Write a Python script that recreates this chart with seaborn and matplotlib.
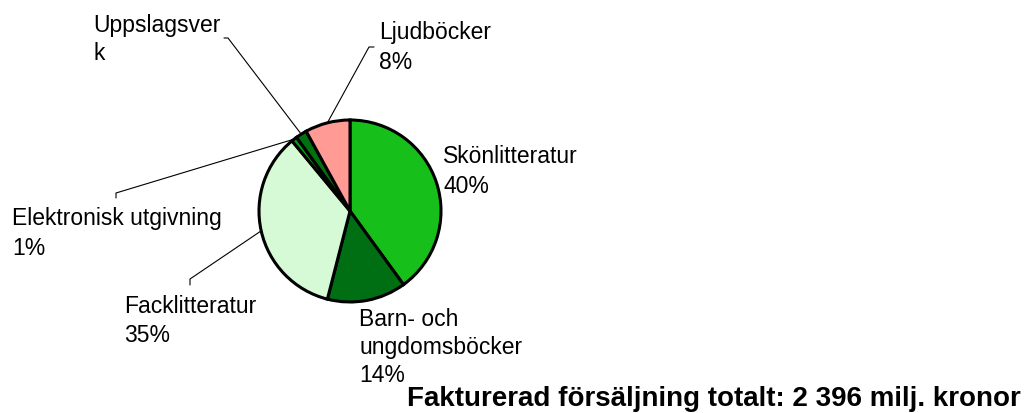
import numpy as np
import matplotlib.pyplot as plt
import seaborn as sns

sns.set_style("white")
plt.rcParams['font.family'] = ['Liberation Sans', 'DejaVu Sans']

# Data (clockwise from top)
categories = ['Skönlitteratur', 'Barn- och ungdomsböcker', 'Facklitteratur',
              'Elektronisk utgivning', 'Uppslagsverk', 'Ljudböcker']
shares = [40, 14, 35, 1, 2, 8]
colors = ['#17bf1a', '#006e13', '#d5fad5', '#00a010', '#007010', '#ff9a94']
label_lines = [
    ['Skönlitteratur', '40%'],
    ['Barn- och', 'ungdomsböcker', '14%'],
    ['Facklitteratur', '35%'],
    ['Elektronisk utgivning', '1%'],
    ['Uppslagsver', 'k'],
    ['Ljudböcker', '8%'],
]
title = 'Fakturerad försäljning totalt: 2 396 milj. kronor'

W, H = 1031, 414
fig = plt.figure(figsize=(W / 100, H / 100), dpi=100)
ax = fig.add_axes([0, 0, 1, 1])
ax.axis('off')

def Y(y):
    # pixel row (top-down) -> data y
    return H - y

cx, cy, r = 350, 212, 91
wedges, _ = ax.pie(shares, colors=colors, startangle=90, counterclock=False,
                   center=(cx, Y(cy)), radius=r,
                   wedgeprops=dict(edgecolor='black', linewidth=2.2))
ax.set_xlim(0, W)
ax.set_ylim(0, H)
ax.set_aspect('equal')

# label placement: left x, first baseline (pixels, top-down), line gap
label_pos = [(443, 163, 30), (359, 326, 28), (124, 313, 29),
             (12, 225, 30), (93, 32, 28), (379, 39, 30)]
for lines, (lx, ly, gap) in zip(label_lines, label_pos):
    for i, line in enumerate(lines):
        ax.text(lx, Y(ly + i * gap), line, fontsize=16.5, ha='left',
                va='baseline', color='black')

# leader lines: (tick start, tick end) in pixels, then to wedge middle
leaders = {2: ((190, 286), (190, 280)),
           3: ((116, 199), (116, 194)),
           4: ((224, 39), (228, 39)),
           5: ((374, 48), (369, 48))}
for idx, (p0, p1) in leaders.items():
    w = wedges[idx]
    ang = np.deg2rad((w.theta1 + w.theta2) / 2)
    ex, ey = cx + r * np.cos(ang), Y(cy) + r * np.sin(ang)
    ax.plot([p0[0], p1[0], ex], [Y(p0[1]), Y(p1[1]), ey],
            color='black', linewidth=0.8, zorder=0.5)

ax.text(407, Y(406), title, fontsize=20, fontweight='bold', ha='left',
        va='baseline', color='black')

fig.savefig('out.png', dpi=100)
